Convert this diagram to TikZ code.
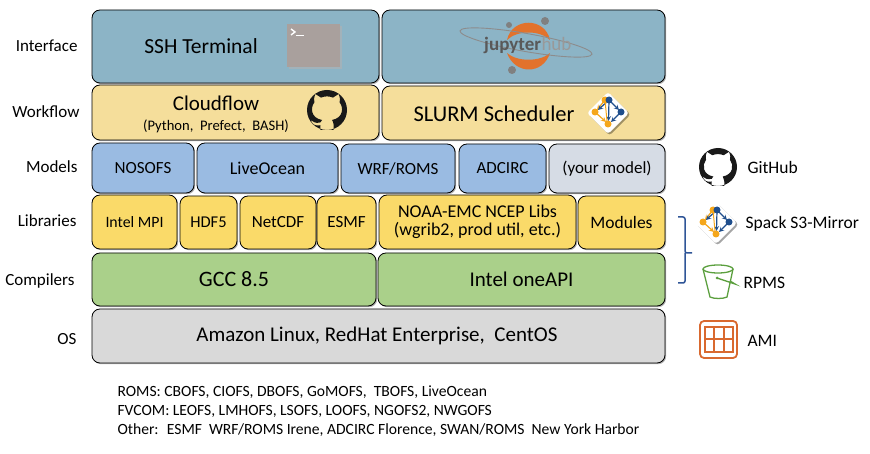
\documentclass[tikz,border=0pt]{standalone}
\usepackage{fontspec}
\setmainfont{Carlito}
\usetikzlibrary{shadows}
\definecolor{ifacecol}{HTML}{8CB4C6}
\definecolor{flowcol}{HTML}{F5DE9B}
\definecolor{modelcol}{HTML}{9ABBE2}
\definecolor{yourcol}{HTML}{D6DCE5}
\definecolor{libcol}{HTML}{FADA69}
\definecolor{compcol}{HTML}{AAD08A}
\definecolor{oscol}{HTML}{D9D9D9}
\definecolor{spackblue}{HTML}{1F4E8C}
\definecolor{spackorange}{HTML}{F5A71C}
\definecolor{jorange}{HTML}{E2722C}
\definecolor{bucketcol}{HTML}{5B9F3E}
\definecolor{amicol}{HTML}{D9692F}
\definecolor{bracecol}{HTML}{2F5597}
\newcommand{\fs}[1]{\fontsize{#1}{#1}\selectfont}
\tikzset{
  tier/.style={draw=black, line width=0.8pt, rounded corners=8pt, inner sep=0pt, align=center,
    drop shadow={shadow xshift=1.2pt, shadow yshift=-1.2pt, opacity=0.3, fill=black}},
  rowlabel/.style={anchor=east, font=\fs{17}},
  sidelabel/.style={anchor=west, font=\fs{17.5}},
  noteline/.style={anchor=west, font=\fs{15.6}},
  ghicon/.pic={
    \fill[black!90, even odd rule] (0,0) circle (1)
      (-0.30,-0.62) .. controls (-0.1,-0.70) and (0.1,-0.70) .. (0.30,-0.62)
      -- (0.58,-0.80) .. controls (0.66,-0.6) and (0.66,-0.5) .. (0.63,-0.38)
      .. controls (0.85,-0.1) and (0.80,0.40) .. (0.25,0.50)
      .. controls (0.35,0.62) and (0.33,0.8) .. (0.33,1.0)
      -- (-0.33,1.0) -- (-0.33,0.76)
      .. controls (-0.6,0.82) and (-0.72,0.72) .. (-0.82,0.50)
      .. controls (-0.7,0.56) and (-0.6,0.70) .. (-0.33,0.62)
      .. controls (-0.33,0.56) and (-0.30,0.52) .. (-0.25,0.50)
      .. controls (-0.80,0.40) and (-0.85,-0.1) .. (-0.63,-0.38)
      .. controls (-0.66,-0.5) and (-0.66,-0.6) .. (-0.58,-0.80) -- cycle;
  },
  spackicon/.pic={
    \fill[white, rounded corners=3pt, drop shadow={shadow xshift=1.5pt, shadow yshift=-1.5pt, opacity=0.35, fill=black}]
      (0,-21) -- (21,0) -- (0,21) -- (-21,0) -- cycle;
    \draw[spackorange, line width=1.2pt, -stealth] (-3,-13) -- (-11,-3);
    \draw[spackorange, line width=1.2pt, -stealth] (-13,-1) -- (-2,9);
    \draw[spackblue, line width=1.2pt, -stealth] (1,-13) -- (-10,-3);
    \draw[spackblue, line width=1.2pt, -stealth] (1,-13) -- (0.5,8);
    \draw[spackorange, line width=1pt] (-3,-13) -- (-1,8);
    \draw[spackblue, line width=1.2pt, -stealth] (1,-13) -- (11,-3);
    \draw[spackblue, line width=1.2pt, -stealth] (13,-1) -- (3,9);
    \fill[spackorange] (-3,-13) circle (3.5);
    \fill[spackblue] (1,-13) circle (3.5);
    \fill[spackblue] (13,-1) circle (3.5);
    \fill[spackorange] (-13,-1) circle (3.5);
    \fill[spackorange] (0,11) circle (3.5);
  }
}
\begin{document}
\begin{tikzpicture}[x=1pt, y=-1pt]
\useasboundingbox (0,0) rectangle (870,454);
%ROW LABELS
\node[rowlabel] (lblface) at (81,46) {Interface};
\node[rowlabel] (lblflow) at (83,112) {Workflow};
\node[rowlabel] (lblmodel) at (81,167) {Models};
\node[rowlabel] (lbllib) at (80,221) {Libraries};
\node[rowlabel] (lblcomp) at (78,281) {Compilers};
\node[rowlabel] (lblos) at (80,339) {OS};
%INTERFACE
\node[tier, fill=ifacecol, minimum width=287pt, minimum height=73pt] (ssh) at (235.5,46.5) {};
\node[tier, fill=ifacecol, minimum width=283pt, minimum height=73pt] (jhub) at (523.5,46.5) {};
\node[font=\fs{21.5}] (sshtext) at (201,46) {SSH Terminal};
\fill[black!30, opacity=0.6] (289,26) rectangle (342,69);
\fill[fill={rgb,255:red,169;green,160;blue,157}] (287,24) rectangle (340,67);
\draw[white, line width=1.4pt] (291,29) -- (295,32) -- (291,35);
\draw[white, line width=1.4pt] (296,35.5) -- (304,35.5);
%JUPYTERHUB LOGO
\fill[jorange] (507,40) .. controls (512,17) and (545,17) .. (550,40) .. controls (540,30) and (517,30) .. (507,40);
\fill[jorange] (507,53) .. controls (515,75) and (543,75) .. (550,53) .. controls (540,62) and (517,62) .. (507,53);
\fill[black!50] (509,25) circle (3);
\fill[black!50] (545,21) circle (4);
\fill[black!50] (512,70) circle (4);
\draw[black!45, line width=0.9pt, rotate around={-10:(526,42.5)}] (526,42.5) ellipse (67 and 9);
\node[font=\fs{19}\bfseries, text=black!65, inner sep=0pt, anchor=base west] (jtext) at (484,51) {jupyter};
\node[font=\fs{19}, text=black!40, inner sep=0pt, anchor=base west] (htext) at (jtext.base east) {hub};
%WORKFLOW
\node[tier, fill=flowcol, minimum width=287pt, minimum height=55pt] (cflow) at (235.5,112.5) {};
\node[tier, fill=flowcol, minimum width=283pt, minimum height=54pt] (slurm) at (523.5,113) {};
\node[font=\fs{21}] (cftext) at (216,103.5) {Cloudflow};
\node[font=\fs{14.6}] (cfsub) at (216,126) {(Python, \ Prefect, \ BASH)};
\node[font=\fs{22.5}] (slurmtext) at (494,114) {SLURM Scheduler};
\pic[scale=20] at (327,110) {ghicon};
\pic at (608,113) {spackicon};
%MODELS
\node[tier, fill=modelcol, minimum width=102pt, minimum height=50pt, font=\fs{17}] (nosofs) at (143,168) {NOSOFS};
\node[tier, fill=modelcol, minimum width=141pt, minimum height=50pt, font=\fs{18}] (liveocean) at (267.5,168) {LiveOcean};
\node[tier, fill=modelcol, minimum width=114pt, minimum height=49pt, font=\fs{17}] (wrfroms) at (398,168.5) {WRF/ROMS};
\node[tier, fill=modelcol, minimum width=87pt, minimum height=49pt, font=\fs{17}] (adcirc) at (502.5,168.5) {ADCIRC};
\node[tier, fill=yourcol, minimum width=116pt, minimum height=49pt, font=\fs{17}] (yourmodel) at (607,168.5) {(your model)};
%LIBRARIES
\node[tier, fill=libcol, minimum width=85pt, minimum height=54pt, font=\fs{15.8}] (intelmpi) at (134.5,222) {Intel MPI};
\node[tier, fill=libcol, minimum width=57pt, minimum height=53pt, font=\fs{16.5}] (hdf) at (208.5,222.5) {HDF5};
\node[tier, fill=libcol, minimum width=76pt, minimum height=53pt, font=\fs{17}] (netcdf) at (278,222.5) {NetCDF};
\node[tier, fill=libcol, minimum width=59pt, minimum height=53pt, font=\fs{17}] (esmf) at (346.5,222.5) {ESMF};
\node[tier, fill=libcol, minimum width=197pt, minimum height=54pt, font=\fs{18}] (ncep) at (477.5,222) {NOAA-EMC NCEP Libs\\(wgrib2, prod util, etc.)};
\node[tier, fill=libcol, minimum width=87pt, minimum height=53pt, font=\fs{17.5}] (modules) at (621.5,222.5) {Modules};
%COMPILERS
\node[tier, fill=compcol, minimum width=284pt, minimum height=53pt, font=\fs{22}] (gcc) at (234,279.5) {GCC 8.5};
\node[tier, fill=compcol, minimum width=287pt, minimum height=53pt, font=\fs{21}] (oneapi) at (521.5,279.5) {Intel oneAPI};
%OS
\node[tier, fill=oscol, minimum width=573pt, minimum height=54pt, font=\fs{21}] (osbox) at (378.5,336) {Amazon Linux, RedHat Enterprise, \ CentOS\hspace{3pt}};
%SIDE ICONS
\pic[scale=19] at (718,167) {ghicon};
\node[sidelabel] (ghlabel) at (744,167) {GitHub};
\pic at (716,223) {spackicon};
\node[sidelabel] (spacklabel) at (742,224) {Spack S3-Mirror};
\draw[bracecol, line width=1.5pt, rounded corners=2pt] (678,217) -- (685,217) -- (685,253) -- (692,253);
\draw[bracecol, line width=1.5pt, rounded corners=2pt] (678,283) -- (685,283) -- (685,253);
%BUCKET
\draw[bucketcol, line width=1.3pt] (718,269) ellipse (15 and 4);
\draw[bucketcol, line width=1.3pt] (703,269) -- (710,297) .. controls (714,299) and (723,299) .. (727,297) -- (733,269);
\draw[bucketcol, line width=1.3pt] (717,278) -- (735,284) -- (730,281);
\fill[bucketcol] (717,278) circle (1.5);
\node[sidelabel] (rpmslabel) at (740,283) {RPMS};
%AMI
\draw[amicol, line width=1.8pt, rounded corners=4pt] (700,321) rectangle (737,358);
\draw[amicol, line width=1.8pt] (705,327) rectangle (733,352);
\draw[amicol, line width=1.8pt] (705,339) -- (733,339);
\foreach \cx in {714,724} {\draw[amicol, line width=1.8pt] (\cx,327) -- (\cx,352);}
\node[sidelabel] (amilabel) at (744,341) {AMI};
%NOTES
\node[noteline] (noteroms) at (114,392.5) {ROMS: CBOFS, CIOFS, DBOFS, GoMOFS, \ TBOFS, LiveOcean};
\node[noteline] (notefv) at (114,411.5) {FVCOM: LEOFS, LMHOFS, LSOFS, LOOFS, NGOFS2, NWGOFS};
\node[noteline] (noteother) at (114,430.5) {Other: \ ESMF \ WRF/ROMS Irene, ADCIRC Florence, SWAN/ROMS \ New York Harbor};
\end{tikzpicture}
\end{document}
